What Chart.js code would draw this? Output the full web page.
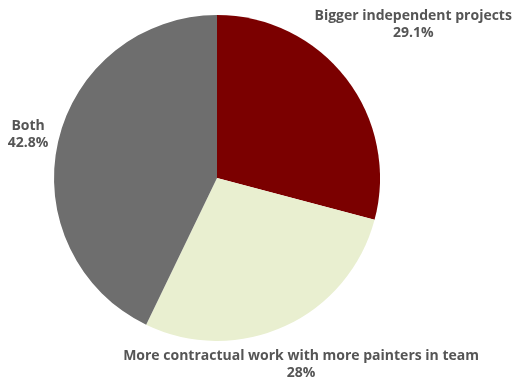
<!DOCTYPE html>
<html>
<head>
<meta charset="utf-8">
<script src="https://cdn.jsdelivr.net/npm/chart.js@4.4.0/dist/chart.umd.min.js"></script>
<style>
    html, body { margin: 0; padding: 0; background: #ffffff; }
    #wrap { width: 518px; height: 382px; }
</style>
</head>
<body>
<div id="wrap"><canvas id="pieTrabajo" width="518" height="382"></canvas></div>
<script>
// datos del gráfico
const categorias = [
    'Bigger independent projects',
    'More contractual work with more painters in team',
    'Both'
];
const porcentajes = [29.1, 28, 42.8];
const etiquetasValor = ['29.1%', '28%', '42.8%'];
const colores = ['#7b0000', '#e9efd0', '#6e6e6e'];

// desplazamiento de cada etiqueta respecto al borde del arco (px)
const desplazamientos = [
    { dx: 67, dy: -63 },
    { dx: 16, dy: 30 },
    { dx: -30, dy: -16 }
];

// plugin para pintar las etiquetas fuera del pastel
const etiquetasExternas = {
    id: 'etiquetasExternas',
    afterDatasetsDraw(chart) {
        const ctx = chart.ctx;
        const meta = chart.getDatasetMeta(0);
        ctx.save();
        ctx.font = 'bold 14px "Open Sans", sans-serif';
        ctx.fillStyle = '#555555';
        ctx.textAlign = 'center';
        ctx.textBaseline = 'middle';
        meta.data.forEach((arco, i) => {
            const p = arco.getProps(['x', 'y', 'startAngle', 'endAngle', 'outerRadius'], true);
            const medio = (p.startAngle + p.endAngle) / 2;
            const ax = p.x + Math.cos(medio) * p.outerRadius;
            const ay = p.y + Math.sin(medio) * p.outerRadius;
            const x = ax + desplazamientos[i].dx;
            const y = ay + desplazamientos[i].dy;
            ctx.fillText(categorias[i], x, y);
            ctx.fillText(etiquetasValor[i], x, y + 17);
        });
        ctx.restore();
    }
};

const ctx = document.getElementById('pieTrabajo').getContext('2d');
new Chart(ctx, {
    type: 'pie',
    data: {
        labels: categorias,
        datasets: [{
            data: porcentajes,
            backgroundColor: colores,
            borderWidth: 0
        }]
    },
    options: {
        responsive: false,
        animation: false,
        layout: {
            padding: { top: 15, bottom: 41, left: 54, right: 138 }
        },
        plugins: {
            legend: { display: false },
            tooltip: { enabled: false }
        }
    },
    plugins: [etiquetasExternas]
});
</script>
</body>
</html>
